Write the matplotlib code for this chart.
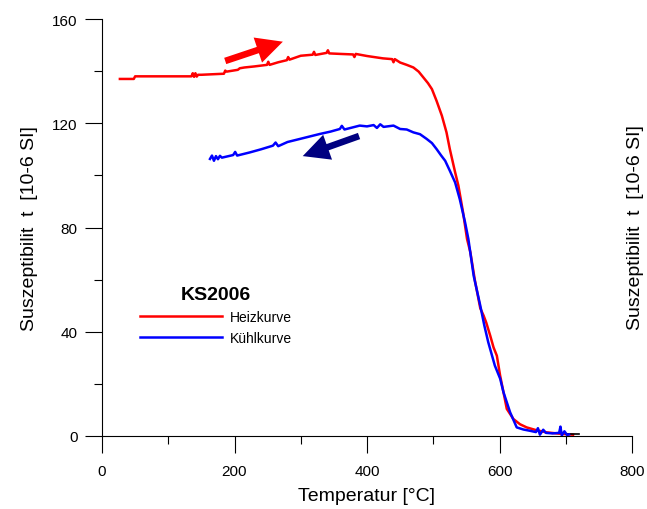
import matplotlib
matplotlib.use("Agg")
import matplotlib.pyplot as plt
from matplotlib.ticker import MultipleLocator

plt.rcParams['font.family'] = ['Liberation Sans', 'DejaVu Sans']

# Heizkurve (heating)
heat_T = [27, 48, 50, 135, 137, 139, 141, 143, 145, 150, 184, 186, 188, 205, 208, 215, 230,
          249, 251, 253, 266, 279, 281, 283, 300, 318, 320, 322, 339, 341, 343, 360, 379,
          381, 383, 400, 424, 438, 440, 442, 450, 460, 470, 478, 485, 492, 498, 505, 513,
          520, 525, 533, 538, 545, 551, 556, 563, 571, 576, 580, 586, 591, 596, 601, 606,
          611, 621, 631, 641, 656, 671, 690, 711]
heat_S = [137.0, 137.0, 138.0, 138.0, 139.2, 137.8, 139.2, 137.9, 138.6, 138.6, 139.0, 140.2,
          139.8, 140.5, 141.1, 141.4, 141.8, 142.4, 143.6, 142.4, 143.4, 144.2, 145.4, 144.4,
          145.9, 146.3, 147.4, 146.2, 147.0, 148.0, 146.8, 146.6, 146.4, 145.4, 146.6, 145.8,
          144.9, 144.6, 143.4, 144.6, 143.3, 142.4, 141.4, 139.8, 137.6, 135.4, 133.1, 128.6,
          122.9, 116.5, 110.1, 101.2, 96.0, 85.8, 75.6, 70.5, 59.5, 49.0, 46.2, 43.5, 38.5,
          34.0, 30.8, 23.1, 16.8, 10.4, 6.5, 4.5, 3.3, 2.2, 1.4, 0.9, 0.5]

# Kühlkurve (cooling)
cool_T = [163, 166, 169, 172, 175, 178, 181, 198, 201, 204, 223, 240, 258, 262, 266, 280, 299,
          329, 345, 359, 362, 366, 389, 400, 410, 415, 420, 425, 440, 450, 460, 470, 480,
          490, 498, 505, 512, 518, 525, 533, 540, 548, 553, 561, 571, 577, 583, 588, 593,
          601, 606, 616, 626, 636, 646, 655, 658, 661, 666, 670, 680, 690, 692, 694, 698,
          702, 705]
cool_S = [106.3, 107.6, 105.6, 107.4, 106.2, 107.5, 106.8, 107.8, 109.0, 107.6, 108.8, 110.0,
          111.4, 112.6, 111.2, 112.8, 114.0, 115.9, 116.8, 117.8, 119.0, 117.6, 119.1, 118.8,
          119.3, 118.2, 119.6, 118.6, 119.1, 117.8, 117.6, 116.5, 115.8, 114.0, 112.4, 110.1,
          107.6, 105.6, 101.8, 97.3, 90.9, 82.0, 75.6, 61.5, 50.0, 42.5, 36.0, 31.5, 27.0,
          22.0, 16.8, 9.1, 3.3, 2.5, 2.0, 1.5, 3.0, 0.5, 2.4, 1.2, 1.0, 1.2, 3.6, 0.2, 1.8,
          0.4, 0.6]

# short black remainder at the end
rest_T = [700, 720]
rest_S = [0.8, 0.8]

fig = plt.figure(figsize=(6.47, 5.10), dpi=100)
ax = fig.add_axes([102/647, 73/510, 530/647, 417/510])

ax.plot(heat_T, heat_S, color='#ff0000', lw=1.8, label='Heizkurve')
ax.plot(rest_T, rest_S, color='black', lw=1.2)
ax.plot(cool_T, cool_S, color='#0000ff', lw=1.8, label='Kühlkurve')

# arrows
ax.annotate('', xy=(273, 151.3), xytext=(186, 143.9),
            arrowprops=dict(arrowstyle='simple,head_length=1.0,head_width=1.0,tail_width=0.25',
                            mutation_scale=19, color='#ff0000', lw=0, shrinkA=0, shrinkB=0))
ax.annotate('', xy=(303, 107.4), xytext=(388, 115.1),
            arrowprops=dict(arrowstyle='simple,head_length=1.0,head_width=1.0,tail_width=0.25',
                            mutation_scale=19, color='#000080', lw=0, shrinkA=0, shrinkB=0))

ax.set_xlim(0, 800)
ax.set_ylim(0, 160)
ax.xaxis.set_major_locator(MultipleLocator(200))
ax.xaxis.set_minor_locator(MultipleLocator(100))
ax.yaxis.set_major_locator(MultipleLocator(40))
ax.yaxis.set_minor_locator(MultipleLocator(20))

for s in ['top', 'right']:
    ax.spines[s].set_visible(False)
for s in ['left', 'bottom']:
    ax.spines[s].set_linewidth(0.8)

ax.tick_params(which='major', direction='out', length=12.5, width=0.8, labelsize=11)
ax.tick_params(which='minor', direction='out', length=6, width=0.8)
ax.tick_params(axis='x', which='major', pad=8)
ax.tick_params(axis='y', which='major', pad=5)

ax.set_xlabel('Temperatur [°C]', fontsize=14, labelpad=6)
ax.set_ylabel('Suszeptibilit  t  [10-6 SI]', fontsize=14, labelpad=10)
fig.text(636/647, 1 - 228/510, 'Suszeptibilit  t  [10-6 SI]', fontsize=14,
         rotation=90, ha='center', va='center')

leg = ax.legend(loc='center', bbox_to_anchor=(0.215, 0.29), frameon=False, fontsize=10,
                handlelength=5.9, handletextpad=0.6, labelspacing=0.5,
                title='KS2006', title_fontproperties={'weight': 'bold', 'size': 14})

fig.savefig('out.png', dpi=100)
